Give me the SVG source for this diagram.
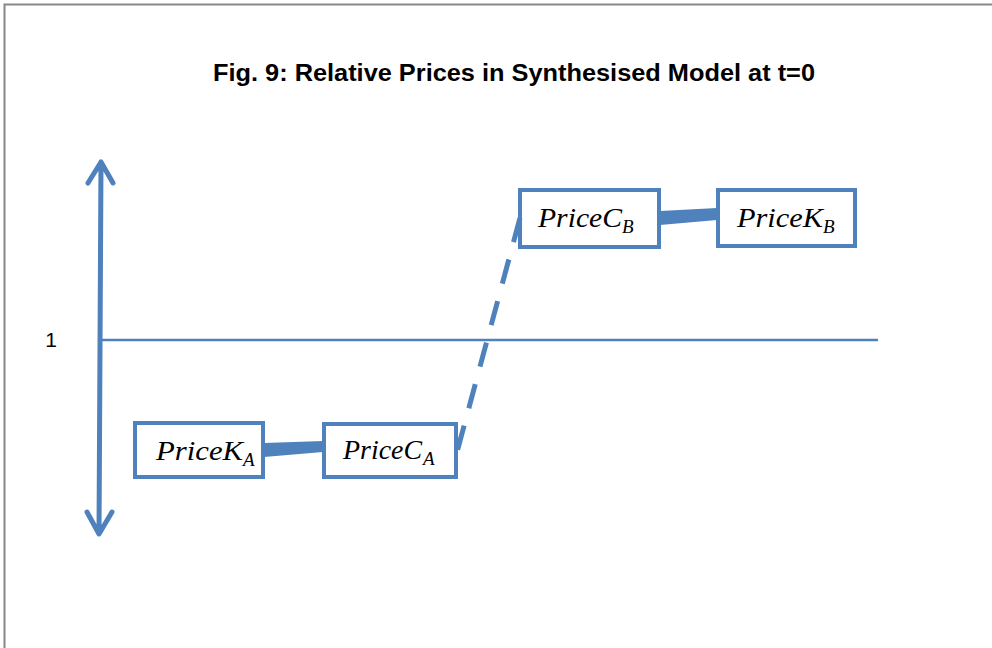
<svg xmlns="http://www.w3.org/2000/svg" width="992" height="648" viewBox="0 0 992 648">
<style>
.box{fill:#fff;stroke:#4F81BD;stroke-width:4}
.lbl{font-family:"Liberation Serif","DejaVu Serif",serif;font-style:italic;font-size:27px;fill:#000}
.sub{font-family:"Liberation Serif","DejaVu Serif",serif;font-style:italic;font-size:19px;fill:#000}
.ax{stroke:#4F81BD;fill:none;stroke-linecap:round;stroke-linejoin:round}
</style>
<rect x="0" y="0" width="992" height="648" fill="#fff"/>
<path d="M4.5,648 V4.5 H992" fill="none" stroke="#888" stroke-width="2"/>
<text x="514" y="81" text-anchor="middle" font-family="Liberation Sans, Arial, sans-serif" font-weight="bold" font-size="23" textLength="602" lengthAdjust="spacingAndGlyphs">Fig. 9: Relative Prices in Synthesised Model at t=0</text>
<text x="51" y="347" text-anchor="middle" font-family="Liberation Sans, Arial, sans-serif" font-size="21">1</text>
<g id="connectors">
<line class="ax" x1="101" y1="340" x2="878" y2="340" stroke-width="2.5" style="stroke-linecap:butt"/>
<path class="ax" d="M101,162 L99,534 M88,183 L101,162 L113,183 M87,512 L99,534 L112,512" stroke-width="5"/>
<polygon points="264,443 323,441 323,452 264,457" fill="#4F81BD"/>
<polygon points="660,211 717,208 717,220 660,225" fill="#4F81BD"/>
</g>
<g id="PriceK_A"><rect class="box" x="135" y="423" width="128" height="54"/><text class="lbl" x="156" y="460" textLength="87" lengthAdjust="spacingAndGlyphs">PriceK</text><text class="sub" x="243" y="466">A</text></g>
<g id="PriceC_A"><rect class="box" x="324" y="424" width="132" height="53"/><text class="lbl" x="343" y="459" textLength="79" lengthAdjust="spacingAndGlyphs">PriceC</text><text class="sub" x="423" y="465">A</text></g>
<g id="PriceC_B"><rect class="box" x="520" y="190" width="139" height="57"/><text class="lbl" x="538" y="227" textLength="84" lengthAdjust="spacingAndGlyphs">PriceC</text><text class="sub" x="622" y="233">B</text></g>
<g id="PriceK_B"><rect class="box" x="718" y="190" width="137" height="56"/><text class="lbl" x="737" y="227" textLength="86" lengthAdjust="spacingAndGlyphs">PriceK</text><text class="sub" x="823" y="233">B</text></g>
<g id="dashed-connector">
<path d="M520,218 L457,452" fill="none" stroke="#4F81BD" stroke-width="5" stroke-dasharray="25 18"/>
</g>
</svg>
